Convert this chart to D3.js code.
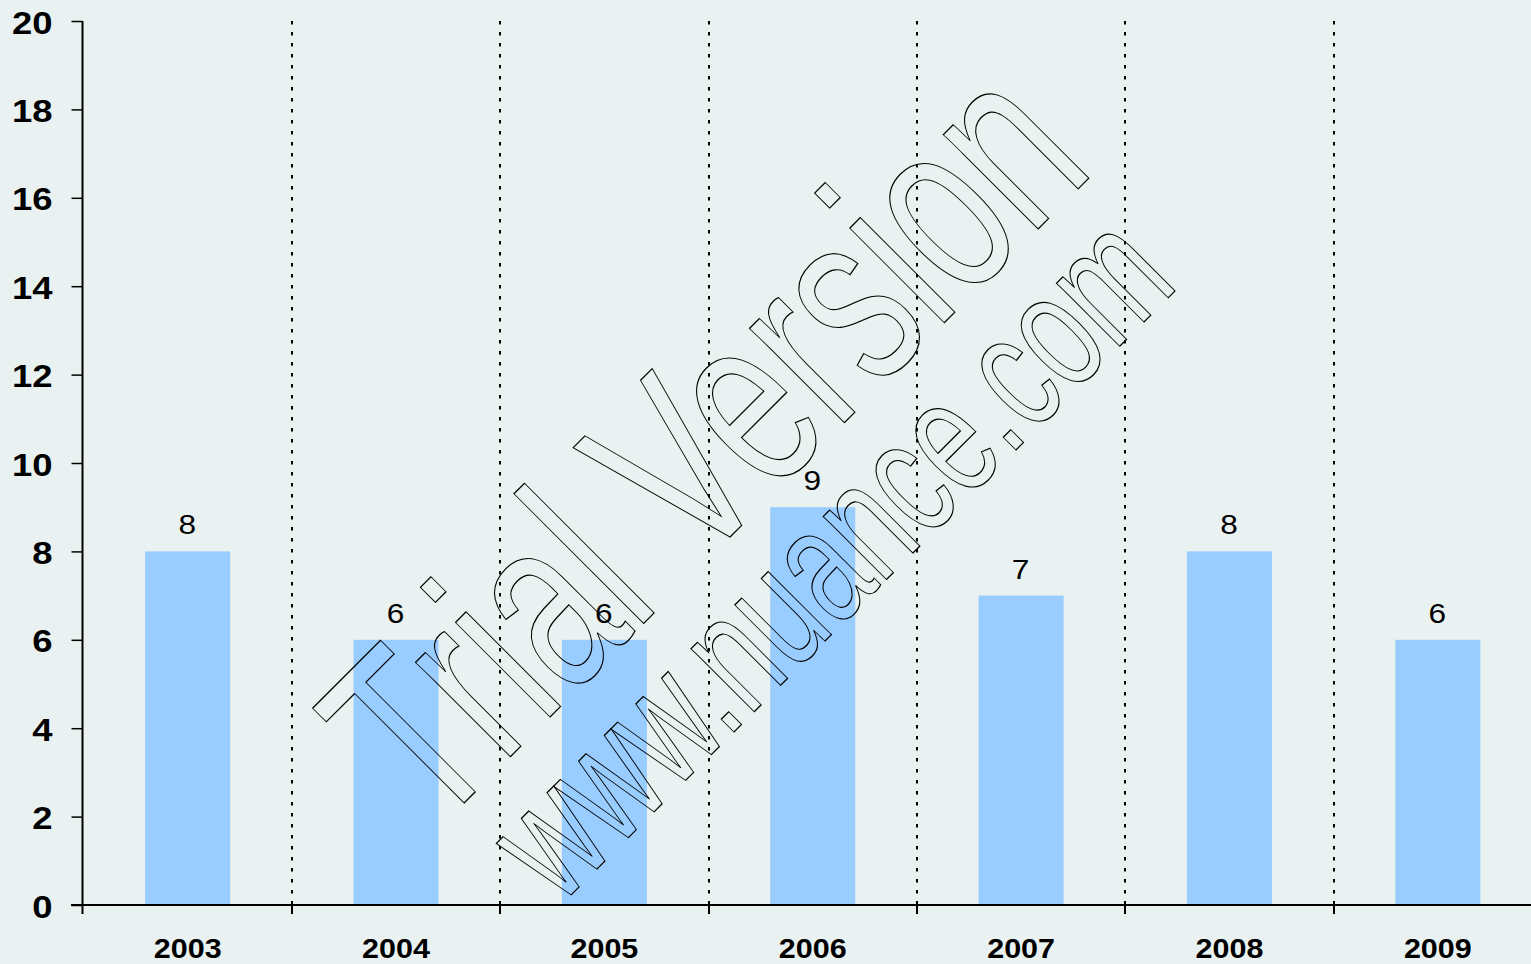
<!DOCTYPE html>
<html>
<head>
<meta charset="utf-8">
<script src="https://cdn.jsdelivr.net/npm/d3@7"></script>
<style>
  html, body { margin: 0; padding: 0; background: #e9f2f1; }
  svg { display: block; }
</style>
</head>
<body>
<div id="chart"></div>
<script>
// data
const years = ["2003", "2004", "2005", "2006", "2007", "2008", "2009"];
const counts = [8, 6, 6, 9, 7, 8, 6];
const yTicks = [0, 2, 4, 6, 8, 10, 12, 14, 16, 18, 20];

const width = 1531;
const height = 964;
const font = "'Liberation Sans', Arial, Helvetica, sans-serif";

const svg = d3.select("#chart")
  .append("svg")
  .attr("width", width)
  .attr("height", height);

svg.append("rect")
  .attr("width", width)
  .attr("height", height)
  .attr("fill", "#e9f2f1");

// scales
const x = d3.scaleBand()
  .domain(years)
  .range([83.5, 1542])
  .padding(0);

const y = d3.scaleLinear()
  .domain([0, 20])
  .range([905, 21]);

const barW = x.bandwidth() * 0.408;

// dotted separators between the years
svg.append("g")
  .selectAll("line")
  .data(years.slice(1))
  .join("line")
  .attr("x1", (d) => Math.round(x(d)))
  .attr("x2", (d) => Math.round(x(d)))
  .attr("y1", y(20))
  .attr("y2", y(0))
  .attr("stroke", "#000")
  .attr("stroke-width", 2)
  .attr("stroke-dasharray", "3.5 7.5");

// bars
svg.append("g")
  .selectAll("rect")
  .data(years)
  .join("rect")
  .attr("x", (d) => x(d) + (x.bandwidth() - barW) / 2)
  .attr("y", (d, i) => y(counts[i]))
  .attr("width", barW)
  .attr("height", (d, i) => y(0) - y(counts[i]))
  .attr("fill", "#99ccff");

// value labels
svg.append("g")
  .selectAll("text")
  .data(years)
  .join("text")
  .attr("transform", (d, i) =>
    `translate(${x(d) + x.bandwidth() / 2 - 0.5},${y(counts[i]) - 17}) scale(1.13,1)`)
  .attr("text-anchor", "middle")
  .style("font-family", font)
  .style("font-size", "28px")
  .style("fill", "#000")
  .text((d, i) => counts[i]);

// y axis
const yAxis = svg.append("g")
  .attr("transform", "translate(82.5,0)")
  .call(d3.axisLeft(y).tickValues(yTicks).tickSize(11).tickSizeOuter(0));

yAxis.select(".domain").remove();
yAxis.selectAll(".tick line").attr("stroke", "#000").attr("stroke-width", 1.5);
yAxis.selectAll(".tick text")
  .attr("x", 0)
  .attr("dy", "0.38em")
  .attr("transform", "translate(-30,0) scale(1.14,1)")
  .attr("text-anchor", "end")
  .style("font-family", font)
  .style("font-size", "32px")
  .style("font-weight", "bold")
  .style("fill", "#000");

svg.append("line")
  .attr("x1", 82.5).attr("x2", 82.5)
  .attr("y1", y(20)).attr("y2", y(0) + 9)
  .attr("stroke", "#000")
  .attr("stroke-width", 2);

// x axis: labels at band centres, ticks at band edges
const xAxis = svg.append("g")
  .attr("transform", `translate(0,${y(0)})`)
  .call(d3.axisBottom(x).tickSize(0));

xAxis.select(".domain").remove();
xAxis.selectAll(".tick text")
  .attr("y", 0)
  .attr("dy", 0)
  .attr("transform", "translate(0,53) scale(1.09,1)")
  .style("font-family", font)
  .style("font-size", "28px")
  .style("font-weight", "bold")
  .style("fill", "#000");

svg.append("line")
  .attr("x1", 71).attr("x2", width)
  .attr("y1", y(0)).attr("y2", y(0))
  .attr("stroke", "#000")
  .attr("stroke-width", 2);

svg.append("g")
  .selectAll("line")
  .data(years.slice(1))
  .join("line")
  .attr("x1", (d) => Math.round(x(d)))
  .attr("x2", (d) => Math.round(x(d)))
  .attr("y1", y(0))
  .attr("y2", y(0) + 9)
  .attr("stroke", "#000")
  .attr("stroke-width", 2);

// trial watermark, outlined text on top
const mark = svg.append("g")
  .attr("fill", "none")
  .attr("stroke", "#000")
  .style("font-family", font);

mark.append("text")
  .attr("transform", "translate(433,834) rotate(-45) scale(0.672,1)")
  .style("font-size", "253px")
  .attr("stroke-width", 1.1)
  .attr("vector-effect", "non-scaling-stroke")
  .text("Trial Version");

mark.append("text")
  .attr("transform", "translate(559.5,906.5) rotate(-45) scale(0.663,1)")
  .style("font-size", "169px")
  .attr("stroke-width", 1.1)
  .attr("vector-effect", "non-scaling-stroke")
  .text("www.nuance.com");
</script>
</body>
</html>
